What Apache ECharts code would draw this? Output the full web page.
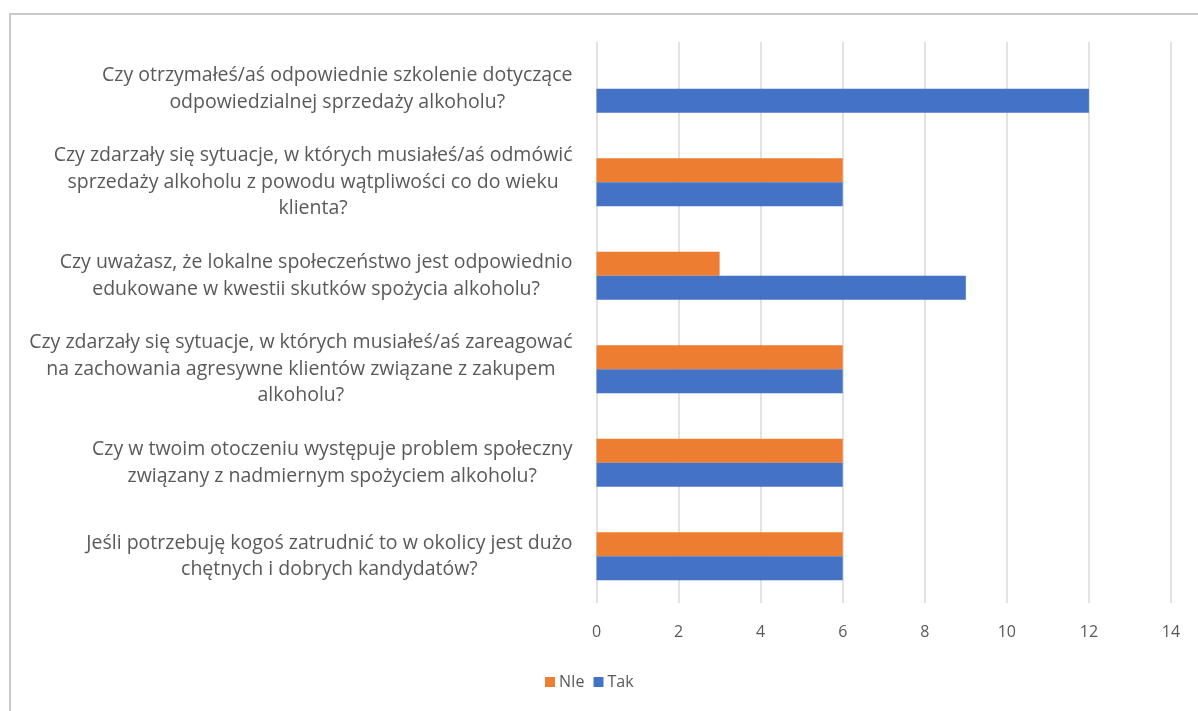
<!DOCTYPE html>
<html>
<head>
<meta charset="utf-8">
<script src="https://cdn.jsdelivr.net/npm/echarts@6/dist/echarts.min.js"></script>
<style>html,body{margin:0;padding:0;background:#fff;}#c{width:1198px;height:711px;}</style>
</head>
<body>
<div id="c"></div>
<script>
const categories = [
  "Czy otrzymałeś/aś odpowiednie szkolenie dotyczące\nodpowiedzialnej sprzedaży alkoholu?",
  "Czy zdarzały się sytuacje, w których musiałeś/aś odmówić\nsprzedaży alkoholu z powodu wątpliwości co do wieku\nklienta?",
  "Czy uważasz, że lokalne społeczeństwo jest odpowiednio\nedukowane w kwestii skutków spożycia alkoholu?",
  "Czy zdarzały się sytuacje, w których musiałeś/aś zareagować\nna zachowania agresywne klientów związane z zakupem\nalkoholu?",
  "Czy w twoim otoczeniu występuje problem społeczny\nzwiązany z nadmiernym spożyciem alkoholu?",
  "Jeśli potrzebuję kogoś zatrudnić to w okolicy jest dużo\nchętnych i dobrych kandydatów?"
];
const nieValues = [0, 6, 3, 6, 6, 6];
const takValues = [12, 6, 9, 6, 6, 6];
const seriesNames = ["NIe", "Tak"];
const xTicks = { min: 0, max: 14, interval: 2 };

const chart = echarts.init(document.getElementById('c'));
const font = "'Open Sans', 'Noto Sans', sans-serif";
chart.setOption({
  animation: false,
  textStyle: { fontFamily: font },
  graphic: [{
    type: 'rect', shape: { x: 10, y: 14, width: 1250, height: 750 },
    style: { fill: 'none', stroke: '#c9c9c9', lineWidth: 2 }, silent: true
  }],
  grid: { left: 596.5, right: 27, top: 42, bottom: 108, containLabel: false },
  legend: {
    bottom: 16, left: 540, itemWidth: 10, itemHeight: 10, itemGap: 9,
    icon: 'rect',
    textStyle: { color: '#595959', fontSize: 16, fontFamily: font, padding: [0, 0, 0, -1] },
    data: seriesNames
  },
  xAxis: {
    type: 'value', min: xTicks.min, max: xTicks.max, interval: xTicks.interval,
    axisLine: { show: false }, axisTick: { show: false },
    splitLine: { lineStyle: { color: '#d9d9d9', width: 1.5 } },
    axisLabel: { color: '#595959', fontSize: 16, margin: 21, fontFamily: font }
  },
  yAxis: {
    type: 'category', data: categories, inverse: true,
    axisLine: { show: false }, axisTick: { show: false },
    axisLabel: {
      align: 'right', margin: 24,
      formatter: v => v.split('\n').map(l => '{c|' + l + '}').join('\n'),
      rich: { c: { align: 'center', color: '#595959', fontSize: 19.5, lineHeight: 26.5, fontFamily: font } }
    }
  },
  series: [
    { name: seriesNames[0], type: 'bar', data: nieValues, barWidth: 24, barGap: '0%', itemStyle: { color: '#ED7D31' } },
    { name: seriesNames[1], type: 'bar', data: takValues, barWidth: 24, barGap: '0%', itemStyle: { color: '#4472C4' } }
  ]
});
</script>
</body>
</html>
